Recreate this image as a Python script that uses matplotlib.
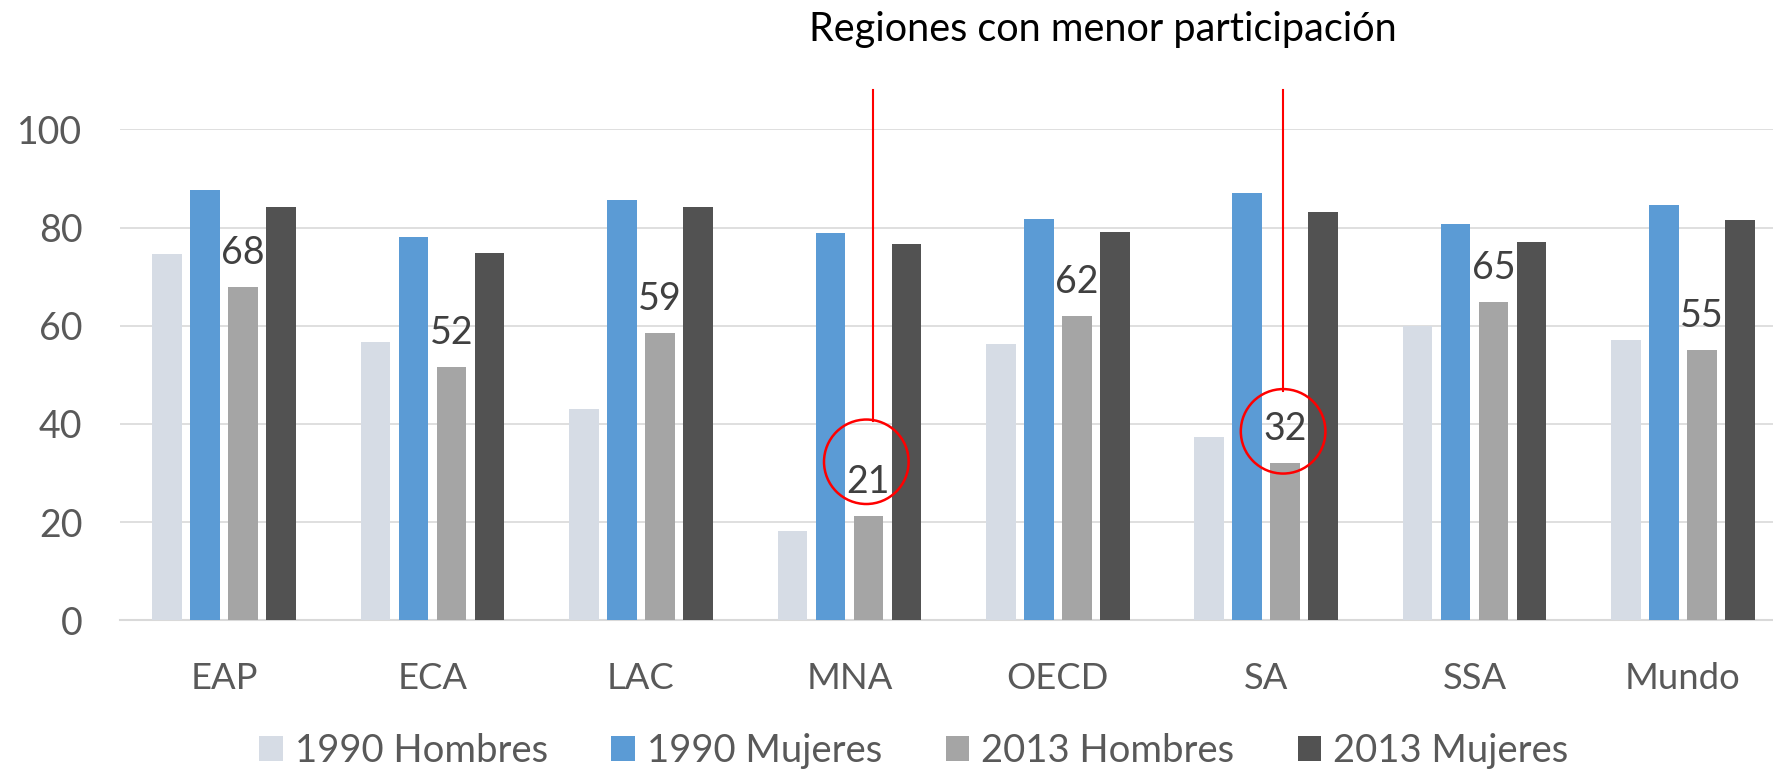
import matplotlib
matplotlib.use("Agg")
import matplotlib.pyplot as plt
from matplotlib.patches import Ellipse
import numpy as np

# ==================== DATA ====================
regions = ["EAP", "ECA", "LAC", "MNA", "OECD", "SA", "SSA", "Mundo"]
series_names = ["1990 Hombres", "1990 Mujeres", "2013 Hombres", "2013 Mujeres"]
v1990_h = [74.6, 56.7, 43.1, 18.3, 56.3, 37.4, 60.0, 57.1]
v1990_m = [87.7, 78.0, 85.6, 78.8, 81.7, 87.1, 80.7, 84.6]
v2013_h = [67.9, 51.7, 58.6, 21.2, 62.0, 32.0, 64.9, 55.1]
v2013_m = [84.1, 74.8, 84.1, 76.6, 79.1, 83.1, 77.1, 81.5]
labels_2013_h = [68, 52, 59, 21, 62, 32, 65, 55]
yticks = [0, 20, 40, 60, 80, 100]

title_text = "Regiones con menor participación"
highlight = ["MNA", "SA"]
# ==============================================

COLORS = ["#D6DCE5", "#5B9BD5", "#A5A5A5", "#525252"]
FONT = "Lato"
FS = 27

plt.rcParams["font.family"] = [FONT, "DejaVu Sans"]

fig = plt.figure(figsize=(17.73, 7.70), dpi=100)
# plot area: left edge at 120px, y=0 at 620px, y=100 at 129px; cropped at the right
ax = fig.add_axes([120 / 1773, 1 - 620.4 / 770, 1 - 120 / 1773, (620.4 - 129.3) / 770])

x = np.arange(len(regions))
step = 0.1823
width = 0.1416
series = [v1990_h, v1990_m, v2013_h, v2013_m]
for i, (vals, name, col) in enumerate(zip(series, series_names, COLORS)):
    ax.bar(x + (i - 1.5) * step, vals, width=width, color=col, label=name, zorder=3)

# data labels on 2013 Hombres
for xi, v, lab in zip(x + 0.5 * step, v2013_h, labels_2013_h):
    ax.annotate(str(lab), (xi, v), xytext=(0, 16.5), textcoords="offset points",
                ha="center", va="baseline", fontsize=FS, color="#404040", zorder=5)

ax.set_xlim(-0.5, -0.5 + (1773 - 120) / 208.4)
ax.set_ylim(0, 100)
ax.set_yticks(yticks)
ax.set_xticks(x)
ax.set_xticklabels(regions)
ax.tick_params(axis="y", length=0, pad=27, labelsize=FS, labelcolor="#595959")
ax.tick_params(axis="x", length=0, pad=30, labelsize=FS * 0.97, labelcolor="#595959")
ax.grid(axis="y", color="#D9D9D9", linewidth=1.2, zorder=0)
for s in ["top", "right", "left"]:
    ax.spines[s].set_visible(False)
ax.spines["bottom"].set_color("#D9D9D9")
ax.spines["bottom"].set_linewidth(1.5)

# highlighted regions: red circle + line up to the title
circle_y = [32.3, 38.5]
line_dx = [0.03, 0.0]
circle_w, circle_h = 0.406, 17.2
for reg, cy, dx in zip(highlight, circle_y, line_dx):
    cx = regions.index(reg) + 0.5 * step - 0.01
    ax.add_patch(Ellipse((cx, cy), circle_w, circle_h, fill=False, edgecolor="red",
                         linewidth=1.8, zorder=6, clip_on=False))
    ax.plot([cx + dx, cx + dx], [cy + circle_h / 2 - 0.3, 108], color="red",
            linewidth=1.5, zorder=6, clip_on=False)

fig.text(1103 / 1773, 1 - 29 / 770, title_text, ha="center", va="center",
         fontsize=28.5, color="black")

fig.legend(loc="center", bbox_to_anchor=(914 / 1773, 1 - 751 / 770), ncol=4,
           frameon=False, fontsize=27.5, handlelength=0.62, handleheight=0.62,
           handletextpad=0.32, columnspacing=1.65, labelcolor="#595959")

fig.savefig("out.png", dpi=100)
